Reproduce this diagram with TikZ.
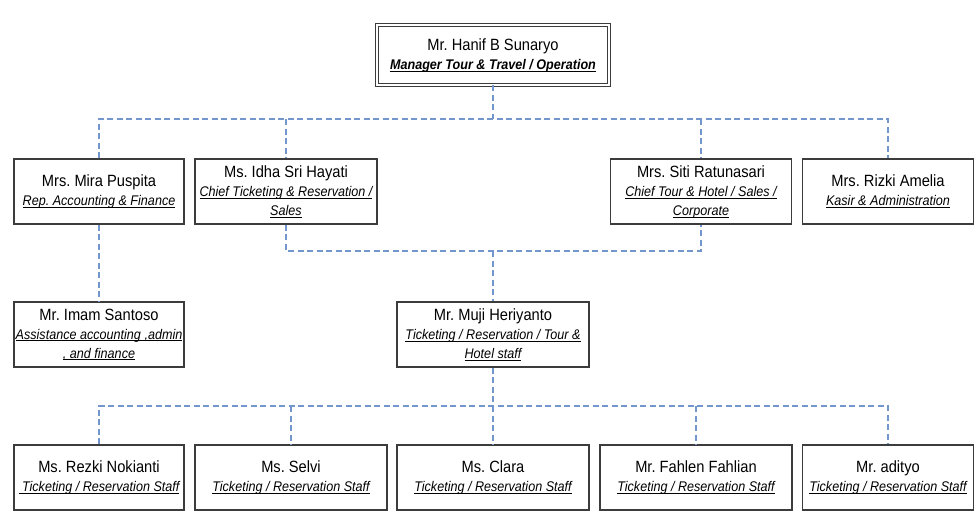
\documentclass[tikz,border=0pt]{standalone}
\usepackage{fontspec}
\setmainfont{Liberation Sans}[FakeStretch=0.9]
\frenchspacing

\definecolor{linkblue}{RGB}{115,150,205}
\definecolor{boxgray}{RGB}{60,60,60}
\newcommand{\sotto}[1]{\underline{\smash{#1}}}
\newcommand{\ruolo}[1]{{\fontsize{14}{19}\selectfont\itshape\sotto{#1}}}

\begin{document}
\begin{tikzpicture}[x=1pt, y=-1pt,
    box/.style={draw=boxgray, line width=1.1pt, align=center, inner sep=0pt,
        minimum height=65pt, font=\fontsize{16.3}{19}\selectfont},
    link/.style={draw=linkblue, line width=1.1pt, dash pattern=on 6pt off 3.5pt}]

    \useasboundingbox (0,0) rectangle (979,512);

    % Direzione
    \node[box, double, double distance=2pt, line width=0.8pt,
        minimum width=232pt, minimum height=60pt] (hanif) at (493,55)
    {Mr. Hanif B Sunaryo\\{\fontsize{14}{19}\selectfont\bfseries\itshape\sotto{Manager Tour \& Travel / Operation}}};

    % Capi reparto
    \node[box, minimum width=170pt] (mira) at (99,191.5)
    {Mrs. Mira Puspita\\\ruolo{Rep. Accounting \& Finance}};
    \node[box, minimum width=182pt] (idha) at (286,191.5)
    {Ms. Idha Sri Hayati\\\ruolo{Chief Ticketing \& Reservation /}\\\ruolo{Sales}};
    \node[box, minimum width=181pt] (siti) at (701,191.5)
    {Mrs. Siti Ratunasari\\\ruolo{Chief Tour \& Hotel / Sales /}\\\ruolo{Corporate}};
    \node[box, minimum width=171pt] (rizki) at (888,191.5)
    {Mrs. Rizki Amelia\\\ruolo{Kasir \& Administration}};

    % Assistenti
    \node[box, minimum width=170pt] (imam) at (99,334.5)
    {Mr. Imam Santoso\\\ruolo{Assistance accounting ,admin}\\\ruolo{, and finance}};
    \node[box, minimum width=192pt] (muji) at (493,334.5)
    {Mr. Muji Heriyanto\\\ruolo{Ticketing / Reservation / Tour \&}\\\ruolo{Hotel staff}};

    % Staff
    \node[box, minimum width=170pt] (rezki) at (99,477.5)
    {Ms. Rezki Nokianti\\\ruolo{ Ticketing / Reservation Staff}};
    \node[box, minimum width=192pt] (selvi) at (291,477.5)
    {Ms. Selvi\\\ruolo{Ticketing / Reservation Staff}};
    \node[box, minimum width=192pt] (clara) at (493,477.5)
    {Ms. Clara\\\ruolo{Ticketing / Reservation Staff}};
    \node[box, minimum width=192pt] (fahlen) at (696,477.5)
    {Mr. Fahlen Fahlian\\\ruolo{Ticketing / Reservation Staff}};
    \node[box, minimum width=171pt] (adityo) at (888,477.5)
    {Mr. adityo\\\ruolo{Ticketing / Reservation Staff}};

    % Livelli delle linee
    \coordinate (busA) at (0,119);
    \coordinate (busB) at (0,251);
    \coordinate (busC) at (0,406);

    % Collegamenti direzione - capi
    \draw[link] (hanif.south) -- (hanif.south |- busA);
    \draw[link] (mira.north) -- (mira.north |- busA) -- (rizki.north |- busA) -- (rizki.north);
    \draw[link] (idha.north |- busA) -- (idha.north);
    \draw[link] (siti.north |- busA) -- (siti.north);

    % Collegamenti capi - assistenti
    \draw[link] (mira.south) -- (imam.north);
    \draw[link] (idha.south) |- (siti.south |- busB) -- (siti.south);
    \draw[link] (muji.north |- busB) -- (muji.north);

    % Collegamenti staff
    \draw[link] (muji.south) -- (muji.south |- busC);
    \draw[link] (rezki.north) -- (rezki.north |- busC) -- (adityo.north |- busC) -- (adityo.north);
    \draw[link] (selvi.north |- busC) -- (selvi.north);
    \draw[link] (clara.north |- busC) -- (clara.north);
    \draw[link] (fahlen.north |- busC) -- (fahlen.north);
\end{tikzpicture}
\end{document}
